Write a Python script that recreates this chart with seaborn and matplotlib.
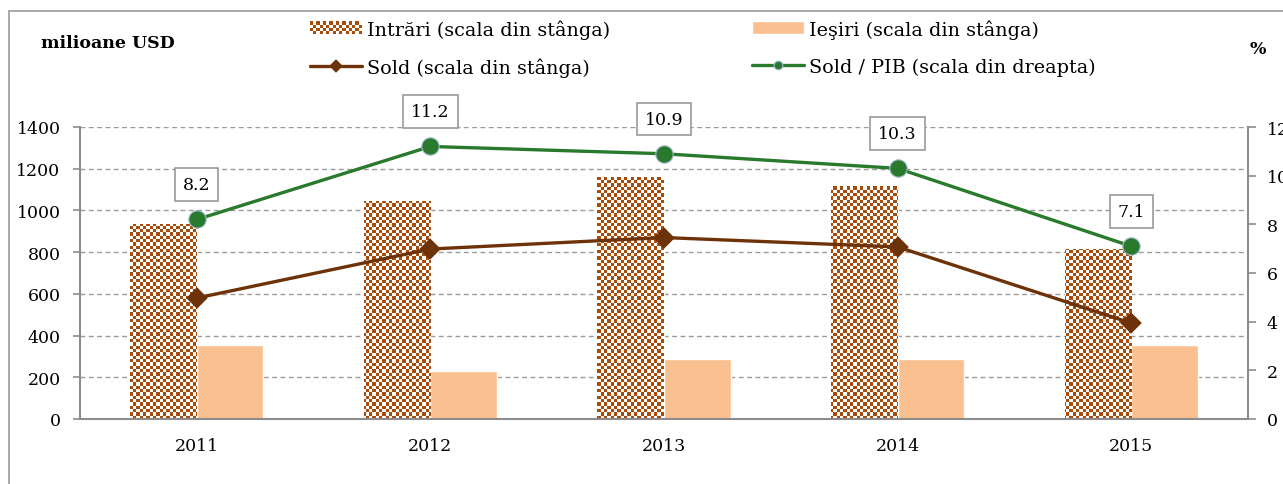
import numpy as np
import pandas as pd
import seaborn as sns
import matplotlib.pyplot as plt
from matplotlib.patches import Rectangle, Patch
from matplotlib.colors import ListedColormap
from matplotlib.legend_handler import HandlerBase

# DATA
years = ['2011', '2012', '2013', '2014', '2015']
intrari = [935, 1045, 1160, 1115, 815]
iesiri = [355, 230, 290, 290, 355]
sold = [580, 815, 870, 825, 460]
sold_pib = [8.2, 11.2, 10.9, 10.3, 7.1]

lbl_in = 'Intrări (scala din stânga)'
lbl_out = 'Ieşiri (scala din stânga)'
lbl_sold = 'Sold (scala din stânga)'
lbl_pib = 'Sold / PIB (scala din dreapta)'

BROWN = '#A64B0A'
PEACH = '#FAC090'
DARK = '#6E3208'
GREEN = '#2A7A2E'
GRAY = '#8C8C8C'

sns.set_style('white')
plt.rcParams['font.family'] = ['DejaVu Serif', 'DejaVu Sans']
plt.rcParams['font.size'] = 12.5
plt.rcParams['text.color'] = 'black'

bars = pd.DataFrame({'an': years * 2,
                     'val': intrari + iesiri,
                     'serie': [lbl_in] * len(years) + [lbl_out] * len(years)})
lines = pd.DataFrame({'an': years, 'sold': sold, 'pib': sold_pib})

fig = plt.figure(figsize=(12.83, 4.85), dpi=100)
ax = fig.add_axes([80 / 1283, 1 - 420 / 485, (1248 - 80) / 1283, 292 / 485])

sns.barplot(data=bars, x='an', y='val', hue='serie', palette=[BROWN, PEACH],
            width=0.57, ax=ax, legend=False, saturation=1, errorbar=None, zorder=2)
ax.set_xlim(-0.5, len(years) - 0.5)
ax.set_ylim(0, 1400)

##CHECKERBOARD FILL FOR THE "INTRARI" BARS ....
ny, nx = 88, 352
checker = np.indices((ny, nx)).sum(axis=0) % 2
cmap = ListedColormap(['white', BROWN])
for bar in ax.containers[0]:
    bar.set_facecolor('white')
    im = ax.imshow(checker, extent=(-0.5, len(years) - 0.5, 0, 1400), aspect='auto',
                   interpolation='nearest', cmap=cmap, zorder=2.5)
    im.set_clip_path(bar)
ax.set_xlim(-0.5, len(years) - 0.5)
ax.set_ylim(0, 1400)

sns.pointplot(data=lines, x='an', y='sold', ax=ax, color=DARK, markers='D',
              errorbar=None, linewidth=2.4, markersize=9.5, zorder=4)

ax.set_yticks(range(0, 1401, 200))
ax.grid(axis='y', color='#9A9A9A', linestyle=(0, (3.5, 2.5)), linewidth=1.0)
ax.set_axisbelow(True)
ax.set_xlabel('')
ax.set_ylabel('')
ax.set_xticks(np.arange(-0.5, len(years)), minor=True)
ax.tick_params(axis='x', which='major', length=0, pad=13, labelsize=12.5, labelcolor='black')
ax.tick_params(axis='x', which='minor', length=3, width=1.2, color=GRAY, direction='out')
ax.tick_params(axis='y', length=5, width=1.2, color=GRAY, pad=9, labelsize=12.5,
               labelcolor='black', left=True)
for s in ['top', 'right']:
    ax.spines[s].set_visible(False)
for s in ['left', 'bottom']:
    ax.spines[s].set_color(GRAY)
    ax.spines[s].set_linewidth(1.5)

##RIGHT AXIS ....
ax2 = ax.twinx()
sns.pointplot(data=lines, x='an', y='pib', ax=ax2, color=GREEN, markers='o',
              errorbar=None, linewidth=2.4, markersize=12.5,
              markeredgecolor='#9FB8D0', markeredgewidth=0.8, zorder=4)
ax2.set_ylim(0, 12)
ax2.set_yticks(range(0, 13, 2))
ax2.set_ylabel('')
ax2.tick_params(axis='y', length=5.5, width=1.2, color=GRAY, pad=8, labelsize=12.5,
                labelcolor='black', right=True)
for s in ['top', 'left', 'bottom']:
    ax2.spines[s].set_visible(False)
ax2.spines['right'].set_color(GRAY)
ax2.spines['right'].set_linewidth(1.5)
ax2.grid(False)

##VALUE LABELS ....
for (x, y), v in zip(ax2.lines[0].get_xydata(), sold_pib):
    ax2.annotate(f'{v}', (x, y), xytext=(0, 25), textcoords='offset points',
                 ha='center', va='center', fontsize=12.5, zorder=6,
                 bbox=dict(boxstyle='square,pad=0.45', fc='white', ec='#9A9A9A', lw=1.2))

##LEGEND ....
class CheckerHandler(HandlerBase):
    def create_artists(self, legend, orig_handle, xdescent, ydescent, width, height, fontsize, trans):
        arts = [Rectangle((-xdescent, -ydescent), width, height, fc='white', ec='none', transform=trans)]
        n_x, n_y = 16, 4
        cw, ch = width / n_x, height / n_y
        for i in range(n_x):
            for j in range(n_y):
                if (i + j) % 2:
                    arts.append(Rectangle((-xdescent + i * cw, -ydescent + j * ch), cw, ch,
                                          fc=BROWN, ec='none', transform=trans))
        return arts

h_in = Patch(facecolor=BROWN, label=lbl_in)
h_out = Patch(facecolor=PEACH, label=lbl_out)
h_sold = ax.lines[0]
h_pib = ax2.lines[0]
fig.legend([h_in, h_sold, h_out, h_pib], [lbl_in, lbl_sold, lbl_out, lbl_pib],
           handler_map={h_in: CheckerHandler()},
           ncol=2, loc='upper left', bbox_to_anchor=(310 / 1283, 1 - 20 / 485),
           frameon=False, borderpad=0, borderaxespad=0, fontsize=13.8,
           handlelength=2.7, handleheight=0.65, handletextpad=0.28,
           labelspacing=0.98, columnspacing=7.4, markerscale=0.5)

##AXIS TITLES AND FRAME ....
fig.text(41 / 1283, 1 - 44 / 485, 'milioane USD', fontsize=12.5, fontweight='bold', va='center', ha='left')
fig.text(1258 / 1283, 1 - 49 / 485, '%', fontsize=12.5, fontweight='bold', va='center', ha='center')
fig.patches.append(Rectangle((9 / 1283, -0.2), 1.2, 1.2 - 12 / 485, transform=fig.transFigure,
                             fill=False, ec='#A8A8A8', lw=1.4))

fig.savefig('out.png', dpi=100)
